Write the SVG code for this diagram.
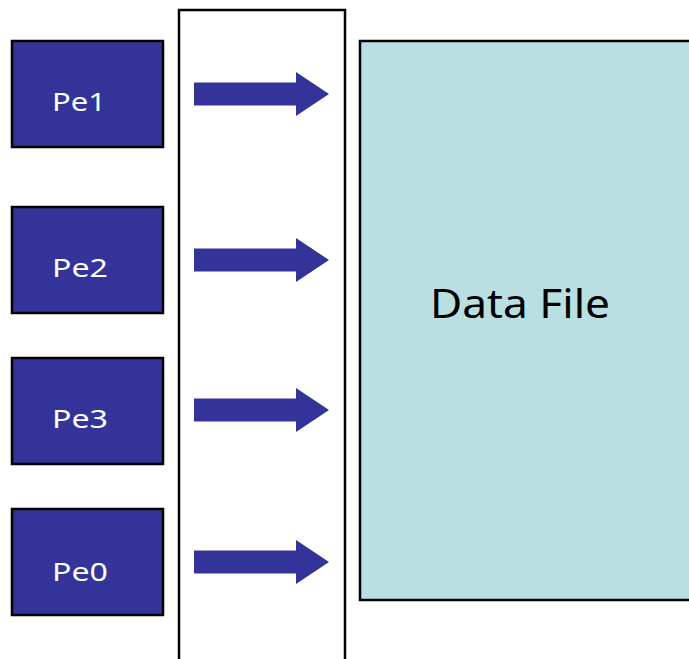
<svg xmlns="http://www.w3.org/2000/svg" width="689" height="659" viewBox="0 0 689 659">
<defs>
<style>
.pe rect{fill:#333399;stroke:#000;stroke-width:2.5}
.pe text{fill:#fff;font-family:"Noto Sans","DejaVu Sans",sans-serif;font-size:26px}
.arrow{fill:#333399}
</style>
<polygon id="arr" class="arrow" points="194,-11.5 296,-11.5 296,-22 329,0 296,22 296,11.5 194,11.5"/>
</defs>
<rect width="689" height="659" fill="#fff"/>
<g id="column"><rect x="179" y="10" width="166" height="660" fill="none" stroke="#000" stroke-width="2.5"/></g>
<g id="datafile">
<rect x="360" y="41" width="340" height="559" fill="#BADFE2" stroke="#000" stroke-width="2.5"/>
<text x="430" y="318" font-family="Noto Sans,DejaVu Sans,sans-serif" font-size="40" textLength="180" lengthAdjust="spacingAndGlyphs" fill="#000">Data File</text>
</g>
<g id="pe1" class="pe"><rect x="12" y="41" width="151" height="106"/><text x="52" y="111" textLength="54" lengthAdjust="spacingAndGlyphs">Pe1</text></g>
<g id="pe2" class="pe"><rect x="12" y="207" width="151" height="106"/><text x="52" y="277" textLength="56" lengthAdjust="spacingAndGlyphs">Pe2</text></g>
<g id="pe3" class="pe"><rect x="12" y="358" width="151" height="106"/><text x="52" y="428" textLength="56" lengthAdjust="spacingAndGlyphs">Pe3</text></g>
<g id="pe0" class="pe"><rect x="12" y="509" width="151" height="106"/><text x="52" y="581" textLength="56" lengthAdjust="spacingAndGlyphs">Pe0</text></g>
<g id="connectors">
<use href="#arr" y="94"/>
<use href="#arr" y="260"/>
<use href="#arr" y="410"/>
<use href="#arr" y="562"/>
</g>
</svg>
